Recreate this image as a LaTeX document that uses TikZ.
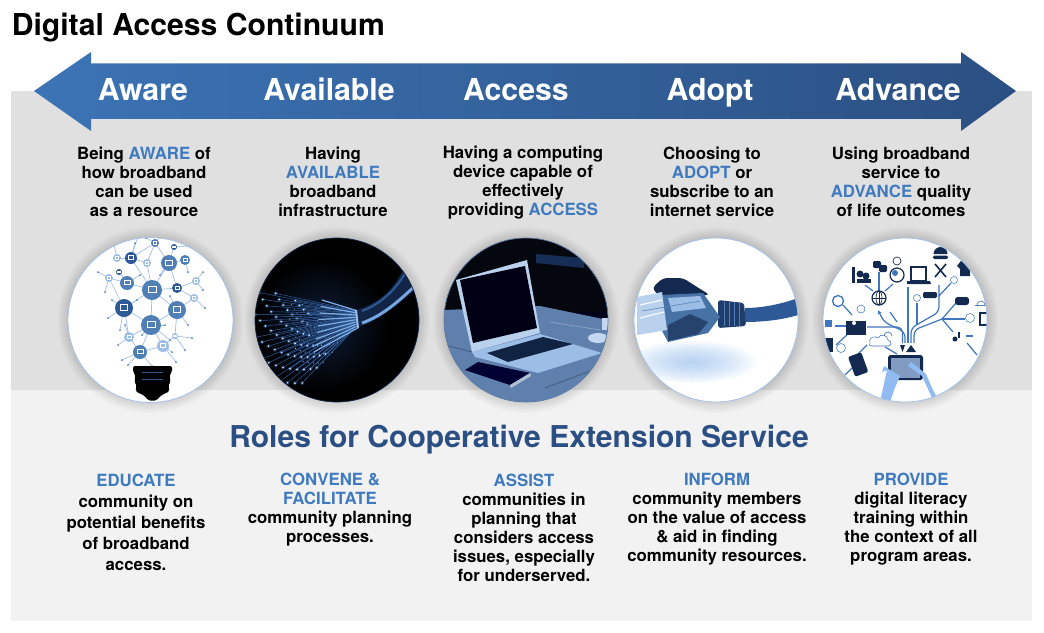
\documentclass[tikz,border=0pt]{standalone}
\usepackage{fontspec}
\setmainfont{TeX Gyre Heros}
\usetikzlibrary{arrows.meta}
\definecolor{upperbg}{HTML}{E0E0E0}
\definecolor{lowerbg}{HTML}{F2F2F2}
\definecolor{accent}{HTML}{3F7ABF}
\definecolor{deepblue}{HTML}{2B4F82}
\definecolor{iconblue}{HTML}{4F7FB5}
\definecolor{icondark}{HTML}{2D5A96}
\definecolor{iconlight}{HTML}{9CBDE6}
\definecolor{navy}{HTML}{14294F}
\definecolor{rim}{HTML}{A5C3E8}
\definecolor{photo}{HTML}{5F80AC}
\definecolor{handblue}{HTML}{8FBBF0}
\definecolor{netblue}{HTML}{3F76BE}

\begin{document}
\begin{tikzpicture}[x=0.75pt, y=-0.75pt,
	title/.style={anchor=base west, inner sep=0, font=\fontsize{22.6}{24}\bfseries\selectfont},
	stage/.style={anchor=base, inner sep=0, text=white, font=\fontsize{22.7}{24}\bfseries\selectfont},
	desc/.style={inner sep=0, align=center, font=\fontsize{12.6}{14.25}\bfseries\selectfont},
	roles/.style={inner sep=0, text=deepblue, font=\fontsize{22.55}{26}\bfseries\selectfont},
	wide/.style={inner sep=0, align=center, font=\fontsize{12.6}{15.75}\bfseries\selectfont},
	wire/.style={iconlight, line width=.5pt},
	net/.style={netblue, line width=.9pt, rounded corners=4pt},
	icon/.style={navy, line width=.9pt},
	rimline/.style={rim, line width=.6pt}
	]
	\useasboundingbox (0,0) rectangle (1044,632);
	\fill[white] (0,0) rectangle (1044,632);
	
	% Panels
	\fill[upperbg] (11,91) rectangle (1032,390);
	\fill[lowerbg] (11,390) rectangle (1032,621);
	
	% Title
	\node[title] (heading) at (11.5,35) {Digital Access Continuum};
	
	% Double arrow
	\coordinate (tipL) at (34,91);
	\coordinate (tipR) at (1016,91);
	\shade[left color=accent!95!black, right color=deepblue]
	(tipL) -- (91,52) -- (91,63) -- (961,63) -- (961,52) -- (tipR)
	-- (961,131) -- (961,119) -- (91,119) -- (91,131) -- cycle;
	\draw[white, opacity=.35, line width=.6pt] (91,63) -- (961,63);
	\draw[white, opacity=.35, line width=.6pt] (91,119) -- (961,119);
	
	% Stage names
	\node[stage] (aware) at (143,100) {Aware};
	\node[stage] (available) at (329,100) {Available};
	\node[stage] (access) at (516,100) {Access};
	\node[stage] (adopt) at (710,100) {Adopt};
	\node[stage] (advance) at (898,100) {Advance};
	
	% Stage descriptions
	\node[desc] (awareText) at (144,181.5) {Being \textcolor{accent}{AWARE} of\\how broadband\\can be used\\as a resource};
	\node[desc] (availableText) at (333,181.5) {Having\\\textcolor{accent}{AVAILABLE}\\broadband\\infrastructure};
	\node[desc] (accessText) at (523,182.5) {Having a computing\\device capable of\\effectively\\providing \textcolor{accent}{ACCESS}};
	\node[desc] (adoptText) at (712,181.5) {Choosing to\\\textcolor{accent}{ADOPT} or\\subscribe to an\\internet service};
	\node[desc] (advanceText) at (901,181.5) {Using broadband\\service to\\\textcolor{accent}{ADVANCE} quality\\of life outcomes};
	
	% Soft shadows under the circles
	\foreach \cx in {150.5,337,526,716,905}
	\foreach \r in {1,...,12}
	\fill[black, opacity=.011] (\cx,320) circle ({81+\r});
	
	% Circle 1: bulb of icons
	\fill[white] (150.5,320) circle (82.5);
	\begin{scope}
		\clip (150.5,320) circle (82.5);
		\foreach \n/\x/\y/\r/\c in {
			a/131/258/6/icondark, b/169/263/8/iconblue, c/127/283/7/iconblue,
			hub/152/290/10/iconblue, e/124/308/9/icondark, f/177/310/9/iconblue,
			g/151/325/10/iconblue, h/140/352/7/iconblue, i/163/346/6/iconlight,
			j/129/337/5/iconlight, k/155/243/4/iconblue, l/174/247/3/icondark,
			m/185/260/5/iconblue, n/147/263/4/iconlight, o/119/272/3/icondark,
			p/177/288/5/icondark, q/196/281/4/iconlight, s/194/298/4/iconlight,
			t/109/278/4/iconlight, u/117/258/4/iconlight, v/175/336/3/iconlight}
		\coordinate (\n) at (\x,\y);
		\foreach \a/\b in {hub/a,hub/b,hub/c,hub/e,hub/f,hub/g,hub/n,hub/p,b/k,b/l,b/m,a/k,a/u,
			c/o,c/t,e/t,p/q,p/s,f/s,f/g,g/e,g/h,g/i,g/j,h/i,i/v,f/v,j/h,n/k,b/p,a/n,e/j}
		\draw[wire] (\a) -- (\b);
		\foreach \a/\x/\y in {u/113/240,a/138/236,k/163/233,t/98/272,t/105/292,e/108/318,e/120/330,
			l/190/246,q/203/272,q/203/290,s/205/308,f/188/325,v/192/338,v/185/350,i/176/362,h/122/360,
			h/128/365,h/152/366,e/137/300,g/165/325,c/140/275,b/160/275,m/188/272,e/112/300,j/118/345,
			g/142/335,f/170/296,a/135/243,j/125/325,g/170/340,i/172/352,k/146/238}
		{
			\draw[wire] (\a) -- (\x,\y);
			\fill[iconblue] (\x,\y) circle (1);
		}
		\foreach \n/\x/\y/\r/\c in {
			a/131/258/6/icondark, b/169/263/8/iconblue, c/127/283/7/iconblue,
			hub/152/290/10/iconblue, e/124/308/9/icondark, f/177/310/9/iconblue,
			g/151/325/10/iconblue, h/140/352/7/iconblue, i/163/346/6/iconlight,
			j/129/337/5/iconlight, k/155/243/4/iconblue, l/174/247/3/icondark,
			m/185/260/5/iconblue, n/147/263/4/iconlight, o/119/272/3/icondark,
			p/177/288/5/icondark, q/196/281/4/iconlight, s/194/298/4/iconlight,
			t/109/278/4/iconlight, u/117/258/4/iconlight, v/175/336/3/iconlight}
		{
			\fill[\c] (\x,\y) circle (\r);
			\draw[white, line width=.45pt] ({\x-.42*\r},{\y-.38*\r}) rectangle ({\x+.42*\r},{\y+.25*\r});
		}
		% Bulb base
		\fill[black, rounded corners=1.5pt] (133,366) -- (172,366) -- (172,372) -- (169,376)
		-- (171,381) -- (168,386) -- (170,391) -- (160,396) -- (157,400.5) -- (148,400.5) -- (145,396)
		-- (135,391) -- (137,386) -- (134,381) -- (136,376) -- (133,372) -- cycle;
		\draw[icondark, line width=.5pt] (142,372) -- (163,372);
		\draw[icondark, line width=.5pt] (142,379.5) -- (163,379.5);
	\end{scope}
	\draw[rimline] (150.5,320) circle (82.5);
	
	% Circle 2: fibre optic cable
	\fill[black] (337,320) circle (82);
	\begin{scope}
		\clip (337,320) circle (82);
		\fill[inner color=navy!75!black, outer color=black] (322,325) circle (66);
		\foreach \i in {1,...,60}
		{
			\pgfmathsetmacro\ang{-18+\i*1.15}
			\pgfmathsetmacro\len{48+mod(\i*37,58)}
			\pgfmathsetmacro\ex{357-\len*cos(\ang)}
			\pgfmathsetmacro\ey{318+\len*sin(\ang)}
			\pgfmathsetmacro\mx{357-.66*\len*cos(\ang+3)}
			\pgfmathsetmacro\my{318+.66*\len*sin(\ang+3)}
			\draw[netblue!70!navy, line width=.35pt] (355,{310+\i*.3}) -- (\ex,\ey);
			\fill[netblue, opacity=.4] (\ex,\ey) circle (2);
			\fill[white!70!handblue] (\ex,\ey) circle (.9);
			\fill[handblue] (\mx,\my) circle (.6);
		}
		\foreach \i in {0,...,8}
		\draw[handblue!80!netblue, line width=.9pt, line cap=round] (358,{311+\i*2.1}) -- ({322-\i},{300+\i*6.5});
		% Cable
		\fill[navy!90!black] (357,310) .. controls (378,303) and (392,292) .. (403,270)
		-- (420,285) .. controls (398,305) and (380,320) .. (358,327) -- cycle;
		\draw[handblue!70!netblue, line width=2.2pt] (362,323) .. controls (382,316) and (398,302) .. (418,283);
		\draw[icondark, line width=1.5pt] (362,311) .. controls (380,304) and (394,292) .. (406,272);
		\draw[iconlight, line width=1.5pt] (356,310) -- (358,328);
	\end{scope}
	\draw[navy, line width=.5pt] (337,320) circle (82);
	
	% Circle 3: laptop on a table
	\fill[black!90!blue] (526,320) circle (82);
	\begin{scope}
		\clip (526,320) circle (82);
		\fill[black!82!navy] (444,238) rectangle (608,312);
		\fill[navy!90!icondark] (536,254) -- (584,258) -- (584,268) -- (536,263) -- cycle;
		% Table
		\fill[photo] (444,310) -- (540,306) -- (608,320) -- (608,402) -- (444,402) -- cycle;
		\draw[photo!75!black, line width=.7pt] (445,345) -- (472,352);
		\draw[photo!75!black, line width=.7pt] (545,388) -- (606,365);
		\draw[photo!70!white, line width=.5pt] (550,322) -- (600,330);
		% Lid
		\fill[iconlight!70!white] (456,280) -- (527,260) -- (540,333) -- (472,352) -- cycle;
		\fill[black!92!blue] (460,280) -- (525,266) -- (537,328) -- (473,343) -- cycle;
		% Base
		\fill[iconlight] (472,352) -- (540,334) -- (602,353) -- (538,373) -- (475,357) -- cycle;
		\fill[navy!85!black] (487,353) -- (543,337) -- (573,344) -- (508,362) -- cycle;
		% Phones
		\fill[black!80!blue] (465,370) -- (478,362) -- (530,373) -- (510,385) -- cycle;
		\fill[photo!50!white] (510,385) -- (530,373) -- (531,376) -- (511,388) -- cycle;
		% Cup
		\fill[iconlight!60!white] (598,338) ellipse (10 and 5);
		\fill[iconlight!60!white] (602,318) rectangle (608,330);
	\end{scope}
	\draw[photo, line width=.5pt] (526,320) circle (82);
	
	% Circle 4: network plug
	\fill[white] (716,320) circle (82);
	\begin{scope}
		\clip (716,320) circle (82);
		\foreach \r in {1,...,14}
		\fill[handblue, opacity=.06] (692,362) ellipse ({4.6*\r} and {1.5*\r});
		% Cable
		\fill[icondark] (745,308) .. controls (762,308) and (782,304) .. (798,298)
		-- (798,315) .. controls (782,320) and (762,322) .. (745,322) -- cycle;
		% Strain relief
		\fill[navy!60!icondark, rounded corners=2pt] (718,300) -- (744,303) -- (746,326) -- (718,328) -- cycle;
		\foreach \x in {724,729,734,739}
		\draw[iconblue, line width=.5pt] (\x,302) -- (\x,326);
		% Clip and body
		\fill[navy, rounded corners=3pt] (652,288) -- (663,278) -- (683,278) -- (697,287) -- (710,295) -- (660,297) -- cycle;
		\fill[iconblue!85!navy] (660,295) -- (703,293) -- (720,317) -- (708,333) -- (668,342) -- (660,327) -- cycle;
		\fill[iconlight] (668,298) -- (700,296) -- (706,308) -- (672,312) -- cycle;
		\fill[navy!70!iconblue] (668,325) -- (690,314) -- (708,322) -- (698,334) -- (668,341) -- cycle;
		% Clear end
		\fill[iconlight!70!white] (637,297) -- (662,292) -- (667,330) -- (637,335) -- cycle;
		\draw[white, line width=.8pt] (640,305) -- (662,300);
		\draw[white, line width=.8pt] (640,318) -- (664,312);
		\draw[iconblue, line width=.4pt] (642,311) -- (700,301);
	\end{scope}
	\draw[rimline] (716,320) circle (82);
	
	% Circle 5: icons around a tablet
	\fill[white] (905,320) circle (82);
	\begin{scope}
		\clip (905,320) circle (82);
		% Wires from the tablet
		\draw[net] (902.5,343) -- (902.5,327) -- (867,327);
		\draw[net, -{Latex[length=3pt,width=3pt]}] (905,343) -- (905,332) -- (884,322) -- (878,310);
		\draw[net] (908,343) -- (908,287);
		\draw[net] (911,343) -- (911,328) -- (939,312) -- (939,285);
		\draw[net] (917,325) -- (917,303);
		\draw[net] (914,343) -- (914,330) -- (942,319);
		% Branches
		\draw[net] (942,319) -- (956,303);
		\draw[net] (942,319) -- (965,319);
		\draw[net] (942,319) -- (953,332);
		\draw[net] (939,296) -- (951,283);
		\draw[net] (897,322) -- (890,312);
		\draw[net] (879,292) -- (879,272);
		\draw[net] (873,291) -- (865,285);
		\draw[net] (885,291) -- (893,284);
		\draw[net] (843,305) -- (852,315);
		\draw[net] (835,326) -- (846,326);
		\draw[net] (836,345) -- (850,332);
		\draw[net] (867,345) -- (855,357);
		\draw[net] (845,375) -- (852,368);
		\draw[net] (885,347) -- (897,354);
		\draw[net] (967,343) -- (977,355);
		\draw[net] (966,336) -- (973,336);
		% Globe, earth, laptop, people
		\draw[icon] (879,298) circle (7);
		\draw[icon, line width=.5pt] (872,298) -- (886,298);
		\draw[icon, line width=.5pt] (879,291) -- (879,305);
		\draw[icon, line width=.5pt] (879,298) ellipse (3 and 7);
		\draw[icon] (897,275) circle (7);
		\fill[netblue] (895,273) circle (3);
		\draw[icon, line width=.5pt] (897,261) circle (4);
		\draw[icon] (911,267) rectangle (926,281);
		\fill[navy] (907,281) -- (930,281) -- (931,284) -- (907,284) -- cycle;
		\fill[navy] (852,267) rectangle (855,283);
		\fill[navy] (860,274) circle (3.5);
		\fill[navy] (866,276) circle (3.5);
		\fill[navy] (857,279) rectangle (871,283);
		\fill[navy, rounded corners=1pt] (873,261) rectangle (881,268);
		\fill[navy, rounded corners=1pt] (879,265) rectangle (887,272);
		% Fork and knife, burger, house
		\draw[icon, line width=1.2pt] (935,264) -- (946,277);
		\draw[icon, line width=1.2pt] (946,264) -- (935,277);
		\fill[navy] (933.5,254) arc[start angle=180, end angle=360, radius=7] -- cycle;
		\fill[navy, rounded corners=1pt] (933,255.5) rectangle (948,259);
		\fill[navy] (957,266) -- (964,257) -- (973,267) -- (970,267) -- (970,276) -- (960,276) -- (960,269) -- cycle;
		\draw[netblue] (954,280) circle (3.5);
		% Small devices on the right
		\draw[netblue] (917,298) circle (3.5);
		\fill[navy, rounded corners=1pt] (923,292) rectangle (937,298);
		\fill[navy, rounded corners=2pt] (955,297) rectangle (969,305);
		\draw[iconblue, line width=.5pt] (975,305) -- (987,305);
		\draw[iconblue, line width=.5pt] (977,305) arc[start angle=180, end angle=360, radius=4];
		\draw[netblue] (970,318) circle (4.5);
		\draw[navy, line width=1pt] (980,313) rectangle (988,325);
		\fill[navy] (955,339) circle (2.5);
		\fill[navy] (958,332) rectangle (960,338);
		% Left side icons
		\draw[netblue, line width=1pt] (838,301) circle (5.5);
		\draw[netblue] (861,309) circle (4);
		\fill[netblue] (825,320) rectangle (832,327);
		\fill[navy] (846,321) rectangle (866,335);
		\fill[white] (854,323) circle (2);
		\fill[navy] (825,338) rectangle (833,352);
		\draw[netblue] (841,348) circle (4.5);
		% Clouds and phone
		\draw[netblue, fill=white] (870,343) .. controls (868,336) and (876,336) .. (878,338)
		.. controls (880,333) and (888,335) .. (888,340) .. controls (892,341) and (892,346) .. (888,346) -- (872,346)
		.. controls (870,346) and (868,345) .. (870,343);
		\draw[netblue, line width=.5pt] (884,336) arc[start angle=180, end angle=360, radius=4];
		\fill[navy, rounded corners=1.5pt, rotate around={20:(858,364)}] (851,354) rectangle (865,375);
		% Tablet and hands
		\fill[navy] (900,345) -- (905,345) -- (902.5,352) -- cycle;
		\fill[navy] (911,345) -- (916,352) -- (906,352) -- cycle;
		\fill[navy, rounded corners=2pt] (888,355) rectangle (923,380);
		\fill[icondark!60!white] (891,358) rectangle (920,378);
		\fill[handblue] (880,402) -- (887,370) -- (882,372) -- (884,366) -- (900,376) -- (894,390) -- (890,402) -- cycle;
		\fill[handblue] (933,400) -- (922,376) -- (908,366) -- (911,362) -- (926,374) -- (932,388) -- (938,400) -- cycle;
	\end{scope}
	\draw[rimline] (905,320) circle (82);
	
	% Lower heading
	\node[roles] (rolesTitle) at (519,439.5) {Roles for Cooperative Extension Service};
	
	% Role columns
	\node[wide] (educate) at (136,522) {\textcolor{accent}{EDUCATE}\\community on\\potential benefits\\of broadband\\access.};
	\node[desc] (convene) at (330,510) {\textcolor{accent}{CONVENE \&}\\\textcolor{accent}{FACILITATE}\\community planning\\processes.};
	\node[desc] (assist) at (524,527.5) {\textcolor{accent}{ASSIST}\\communities in\\planning that\\considers access\\issues, especially\\for underserved.};
	\node[desc] (inform) at (717,519.5) {\textcolor{accent}{INFORM}\\community members\\on the value of access\\\& aid in finding\\community resources.};
	\node[desc] (provide) at (911,519.5) {\textcolor{accent}{PROVIDE}\\digital literacy\\training within\\the context of all\\program areas.};
\end{tikzpicture}
\end{document}
